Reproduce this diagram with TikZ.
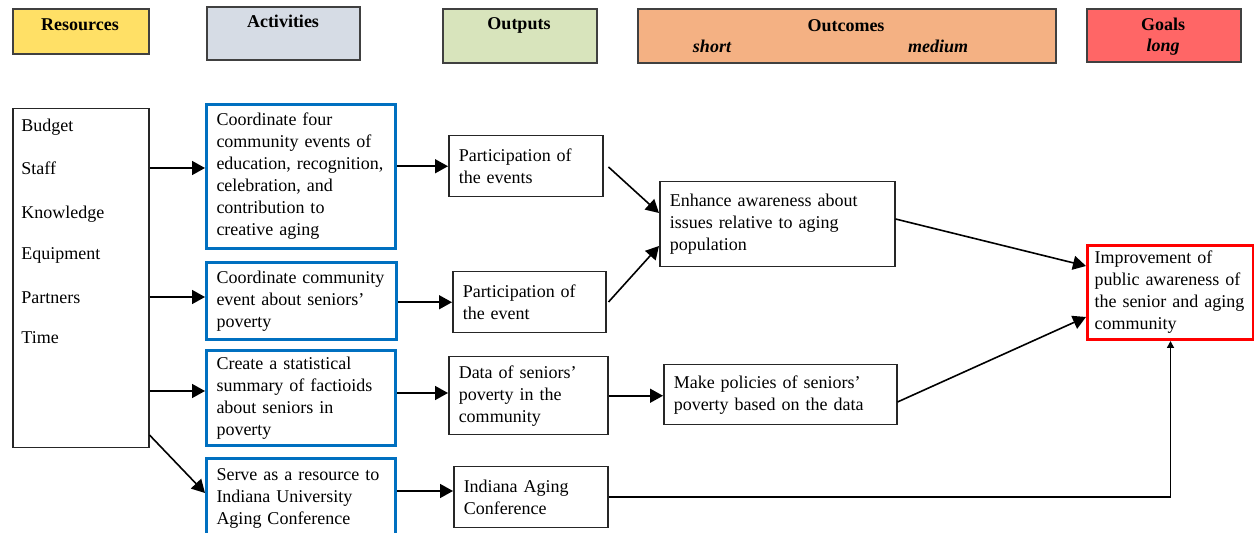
\documentclass[tikz,border=0pt]{standalone}
\usepackage{fontspec}
\setmainfont{Liberation Serif}
\usetikzlibrary{arrows.meta,positioning}
\definecolor{resfill}{HTML}{FFE066}
\definecolor{actfill}{HTML}{D6DCE5}
\definecolor{outfill}{HTML}{D8E4BC}
\definecolor{ocfill}{HTML}{F4B183}
\definecolor{goalfill}{HTML}{FF6666}
\definecolor{actblue}{HTML}{0070C0}
\definecolor{goalred}{HTML}{FF0000}
\tikzset{
  head/.style={
    shape = rectangle,
    draw = black!75,
    line width = 0.8pt,
    anchor = north west
  },
  htxt/.style={
    anchor = base,
    inner sep = 0pt,
    font = \fontsize{9}{11}\selectfont\bfseries
  },
  hsub/.style={
    htxt,
    font = \fontsize{9}{11}\selectfont\bfseries\itshape
  },
  box/.style={
    shape = rectangle,
    draw = black!85,
    line width = 0.75pt,
    anchor = north west,
    inner xsep = 5pt,
    inner ysep = 0pt,
    align = left,
    font = \fontsize{9}{11}\selectfont
  },
  actbox/.style={
    box,
    draw = actblue,
    line width = 1.5pt
  },
  goalbox/.style={
    box,
    draw = goalred,
    line width = 1.5pt,
    inner xsep = 3.5pt
  },
  resitem/.style={
    anchor = base west,
    inner sep = 0pt,
    font = \fontsize{9}{11}\selectfont
  },
  arr/.style={
    -{Triangle[length=6.5pt,width=7pt]},
    line width = 0.8pt
  },
  arrsmall/.style={
    -{Triangle[length=3.5pt,width=3.5pt]},
    line width = 0.8pt
  }
}

\begin{document}
\begin{tikzpicture}[x=0.5pt,y=-0.5pt]
    \useasboundingbox (0,0) rectangle (1254,533);
    % header row
    \node[head, fill=resfill, minimum width=68pt, minimum height=22.5pt] (hres) at (12,8) {};
    \node[head, fill=actfill, minimum width=76.5pt, minimum height=26.5pt] (hact) at (206,6) {};
    \node[head, fill=outfill, minimum width=77pt, minimum height=27pt] (hout) at (442,8) {};
    \node[head, fill=ocfill, minimum width=209pt, minimum height=27pt] (hoc) at (637,8) {};
    \node[head, fill=goalfill, minimum width=77pt, minimum height=26.5pt] (hgoal) at (1086,8) {};
    \node[htxt] (tres) at (80,31) {Resources};
    \node[htxt] (tact) at (283,28) {Activities};
    \node[htxt] (tout) at (519,30) {Outputs};
    \node[htxt] (toc) at (846,32) {Outcomes};
    \node[hsub] (tshort) at (712,53) {short};
    \node[hsub] (tmed) at (938,53) {medium};
    \node[htxt] (tgoal) at (1163,31) {Goals};
    \node[hsub] (tlong) at (1163,52) {long};

    % resources
    \node[box, minimum width=68pt, minimum height=169.5pt] (res) at (12,108) {};
    \foreach \rname/\yy [count=\i] in {Budget/125, Staff/168, Knowledge/212, Equipment/253, Partners/297, Time/337}{
        \node[resitem] (item\i) at (21,\yy+7) {\rname};
    }

    % activities
    \node[actbox, minimum width=94.5pt, minimum height=72pt, text width=84.5pt] (act1) at (205,103)
        {Coordinate four\\community events of\\education, recognition,\\celebration, and\\contribution to\\creative aging};
    \node[actbox, minimum width=95pt, minimum height=38.5pt, text width=85pt] (act2) at (205,261)
        {Coordinate community\\event about seniors’\\poverty};
    \node[actbox, minimum width=94.5pt, minimum height=47.5pt, text width=84.5pt] (act3) at (205,349)
        {Create a statistical\\summary of factioids\\about seniors in\\poverty};
    \node[actbox, minimum width=94.5pt, minimum height=39.5pt, text width=84.5pt] (act4) at (205,457)
        {Serve as a resource to\\Indiana University\\Aging Conference};

    % outputs
    \node[box, minimum width=77pt, minimum height=30.5pt, text width=67pt] (out1) at (448,135)
        {Participation of\\the events};
    \node[box, minimum width=76.5pt, minimum height=30.5pt, text width=66.5pt] (out2) at (452,271)
        {Participation of\\the event};
    \node[box, minimum width=79.5pt, minimum height=39pt, text width=69.5pt] (out3) at (448,356)
        {Data of seniors’\\poverty in the\\community};
    \node[box, minimum width=77pt, minimum height=30.5pt, text width=67pt] (out4) at (453,466)
        {Indiana Aging\\Conference};

    % outcomes and goal
    \node[box, minimum width=117.5pt, minimum height=42.5pt, text width=107.5pt] (enh) at (659,181)
        {Enhance awareness about\\issues relative to aging\\population};
    \node[box, minimum width=116.5pt, minimum height=30pt, text width=106.5pt] (pol) at (663,364)
        {Make policies of seniors’\\poverty based on the data};
    \node[goalbox, minimum width=83pt, minimum height=47pt, text width=76pt] (goal) at (1086,244)
        {Improvement of\\public awareness of\\the senior and aging\\community};

    % connectors
    \draw[arr] (res.east |- 0,168) -- (act1.west |- 0,168);
    \draw[arr] (res.east |- 0,297) -- (act2.west |- 0,297);
    \draw[arr] (res.east |- 0,391) -- (act3.west |- 0,391);
    \draw[arr] (res.east |- 0,435) -- (act4.west |- 0,493);
    \draw[arr] (act1.east |- out1.west) -- (out1.west);
    \draw[arr] (act2.east |- out2.west) -- (out2.west);
    \draw[arr] (act3.east |- 0,393) -- (out3.west |- 0,393);
    \draw[arr] (act4.east |- 0,491) -- (out4.west |- 0,491);
    \draw[arr] ([xshift=2.5pt]out1.east |- 0,167) -- (enh.west |- 0,213);
    \draw[arr] ([xshift=1pt]out2.east |- 0,302) -- (enh.west |- 0,246);
    \draw[arr] (out3.east) -- (pol.west |- out3.east);
    \draw[arr] (enh.east |- 0,219) -- (goal.west |- 0,266);
    \draw[arr] (pol.east |- 0,402) -- (goal.west |- 0,317);
    \draw[arrsmall] (out4.east) -| (goal.south);
\end{tikzpicture}
\end{document}
